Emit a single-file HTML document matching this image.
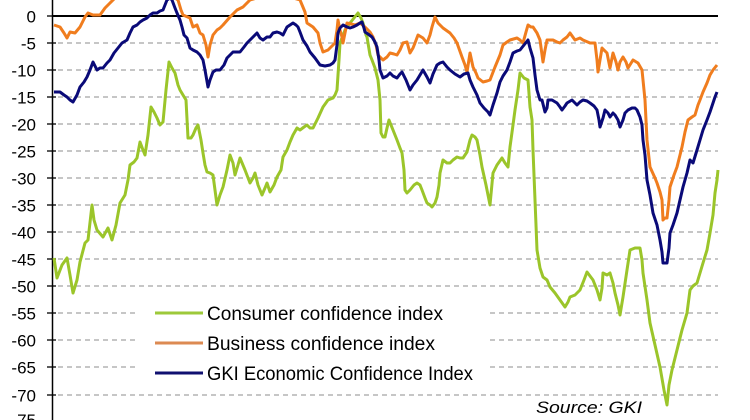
<!DOCTYPE html>
<html>
<head>
<meta charset="utf-8">
<style>
  html,body{margin:0;padding:0;background:#fff;}
  svg{display:block;}
  text{font-family:"Liberation Sans",Arial,sans-serif;fill:#000;}
</style>
</head>
<body>
<svg width="750" height="420" viewBox="0 0 750 420" xmlns="http://www.w3.org/2000/svg">
  <rect x="0" y="0" width="750" height="420" fill="#fff"/>
  <!-- gridlines -->
  <g stroke="#b4b4b4" stroke-width="1.5" stroke-dasharray="5,4" fill="none">
    <line x1="58" y1="43" x2="718" y2="43"/>
    <line x1="58" y1="70" x2="718" y2="70"/>
    <line x1="58" y1="97" x2="718" y2="97"/>
    <line x1="58" y1="124" x2="718" y2="124"/>
    <line x1="58" y1="151" x2="718" y2="151"/>
    <line x1="58" y1="178" x2="718" y2="178"/>
    <line x1="58" y1="205" x2="718" y2="205"/>
    <line x1="58" y1="232" x2="718" y2="232"/>
    <line x1="58" y1="259" x2="718" y2="259"/>
    <line x1="58" y1="286" x2="718" y2="286"/>
    <line x1="58" y1="313" x2="718" y2="313"/>
    <line x1="58" y1="340" x2="718" y2="340"/>
    <line x1="58" y1="367" x2="718" y2="367"/>
    <line x1="58" y1="395" x2="718" y2="395"/>
  </g>
  <!-- zero line -->
  <line x1="53" y1="16" x2="718" y2="16" stroke="#000" stroke-width="2"/>
  <!-- legend background -->
  <rect x="138" y="296" width="352" height="88" fill="#fff"/>
  <!-- y axis -->
  <line x1="52.5" y1="0" x2="52.5" y2="420" stroke="#000" stroke-width="1.5"/>
  <g stroke="#000" stroke-width="1.3">
    <line x1="47" y1="16" x2="56" y2="16"/>
    <line x1="47" y1="43" x2="56" y2="43"/>
    <line x1="47" y1="70" x2="56" y2="70"/>
    <line x1="47" y1="97" x2="56" y2="97"/>
    <line x1="47" y1="124" x2="56" y2="124"/>
    <line x1="47" y1="151" x2="56" y2="151"/>
    <line x1="47" y1="178" x2="56" y2="178"/>
    <line x1="47" y1="205" x2="56" y2="205"/>
    <line x1="47" y1="232" x2="56" y2="232"/>
    <line x1="47" y1="259" x2="56" y2="259"/>
    <line x1="47" y1="286" x2="56" y2="286"/>
    <line x1="47" y1="313" x2="56" y2="313"/>
    <line x1="47" y1="340" x2="56" y2="340"/>
    <line x1="47" y1="367" x2="56" y2="367"/>
    <line x1="47" y1="395" x2="56" y2="395"/>
    <line x1="47" y1="422" x2="56" y2="422"/>
  </g>
  <g font-size="17" text-anchor="end">
    <text x="36" y="22.5">0</text>
    <text x="36" y="49.5">-5</text>
    <text x="36" y="76.5">-10</text>
    <text x="36" y="103.5">-15</text>
    <text x="36" y="130.5">-20</text>
    <text x="36" y="157.5">-25</text>
    <text x="36" y="184.5">-30</text>
    <text x="36" y="211.5">-35</text>
    <text x="36" y="238.5">-40</text>
    <text x="36" y="265.5">-45</text>
    <text x="36" y="292.5">-50</text>
    <text x="36" y="319.5">-55</text>
    <text x="36" y="346.5">-60</text>
    <text x="36" y="373.5">-65</text>
    <text x="36" y="401.5">-70</text>
    <text x="36" y="426">-75</text>
  </g>
  <!-- consumer confidence (green) -->
  <polyline fill="none" stroke="#9bc52a" stroke-width="3" stroke-linejoin="round" points="54,258 57,278 62,265 67,258 70,275 73,293 77,280 80,262 85,243 88,240 92,205 94,220 97,230 103,237 108,228 112,240 116,225 120,203 125,195 128,180 130,165 134,162 137,158 140,142 143,150 145,155 148,135 151,107 154,112 157,118 160,125 163,122 166,90 169,62 172,68 175,73 178,85 180,90 183,95 186,100 188,138 191,138 193,135 196,128 198,125 201,140 203,153 205,165 207,172 210,173 213,175 215,190 217,205 220,195 223,187 227,170 230,155 233,163 235,175 238,165 240,158 245,170 250,183 253,178 255,173 258,185 262,195 265,188 267,183 270,192 274,185 277,177 281,170 283,157 287,150 290,142 293,135 297,128 300,130 304,127 307,125 310,128 313,128 318,118 323,107 328,100 333,98 335,95 337,90 339,60 340,43 345,30 350,23 354,18 358,13 361,18 363,23 366,35 367,37 370,55 372,60 375,68 378,80 380,100 381,133 383,137 385,137 387,128 389,120 393,130 397,140 400,148 402,153 404,170 405,190 407,193 410,190 414,185 417,183 420,185 422,190 425,198 427,203 430,205 432,207 435,203 437,197 439,185 440,173 443,160 447,163 450,163 453,160 457,157 460,158 463,158 467,152 470,140 472,135 475,137 477,140 480,155 482,167 486,185 490,205 493,173 497,165 502,158 505,163 508,167 510,147 513,125 515,110 518,90 520,73 524,78 528,80 530,107 532,120 533,150 535,200 537,250 540,268 543,277 547,280 550,287 555,293 560,300 565,307 568,302 570,297 575,295 580,290 584,280 587,272 590,276 593,280 597,290 600,300 602,288 603,273 607,275 610,273 613,283 615,293 618,305 620,315 623,297 627,270 630,250 635,248 640,248 642,260 643,273 647,300 650,323 655,345 660,367 664,390 667,405 669,385 672,370 677,350 682,330 687,313 690,290 693,286 697,283 700,273 703,263 707,250 710,233 713,215 715,193 717,180 718,170"/>
  <!-- business confidence (orange) -->
  <polyline fill="none" stroke="#f07d1e" stroke-width="3" stroke-linejoin="round" points="54,25 60,27 64,33 67,38 70,32 75,33 80,27 85,17 88,13 93,15 100,15 105,8 110,3 115,-2 125,-3 135,-4 150,-5 165,-4 175,-2 178,0 181,10 183,15 190,18 193,27 197,25 200,33 203,35 206,45 208,57 210,45 213,35 217,30 220,28 223,25 230,17 237,10 243,7 250,0 260,-3 275,-4 290,-3 300,0 305,12 307,23 313,27 318,33 320,43 323,52 328,50 332,46 335,43 337,30 338,20 340,30 342,37 343,43 345,33 347,23 351,24 355,25 360,23 365,27 370,32 373,37 376,45 378,55 383,60 387,57 390,53 394,54 397,55 400,50 403,43 407,42 410,53 413,48 415,43 418,35 423,38 427,43 430,35 432,27 435,17 438,23 443,28 450,33 454,38 457,43 462,57 465,65 467,72 470,53 473,67 476,73 478,78 483,82 487,81 490,80 495,67 500,55 503,45 507,42 510,40 517,38 520,40 523,43 526,32 528,25 531,27 533,27 537,33 540,40 543,62 545,50 547,40 553,40 557,42 560,43 563,40 567,37 570,33 575,40 580,38 583,40 590,43 595,43 597,60 598,72 600,60 602,48 607,53 610,68 613,53 616,62 618,70 620,62 623,57 626,62 628,68 633,60 638,63 642,70 645,100 647,140 650,167 655,178 657,183 660,192 662,200 663,220 665,218 667,218 669,200 670,187 674,175 677,167 680,155 682,147 685,132 688,120 692,117 695,115 698,105 700,100 703,92 707,83 710,75 713,70 717,65"/>
  <!-- GKI economic (navy) -->
  <polyline fill="none" stroke="#0a0a78" stroke-width="3" stroke-linejoin="round" points="54,92 60,92 64,95 67,97 70,100 73,102 77,95 80,87 84,82 87,77 90,70 93,62 97,70 100,68 103,68 107,63 110,60 114,53 118,48 122,43 127,40 130,33 133,27 137,25 140,22 143,20 147,18 150,15 153,13 157,13 160,11 163,10 165,5 167,0 170,-2 172,0 175,8 177,13 180,20 182,27 184,35 187,38 190,48 193,50 197,52 200,55 203,60 205,70 208,87 210,80 213,72 216,70 220,70 224,65 227,58 230,55 233,52 237,52 240,52 244,47 247,43 250,40 253,37 257,33 260,38 263,40 267,37 270,37 273,33 277,32 280,33 283,35 287,27 290,25 293,23 296,25 298,27 300,32 303,40 307,46 310,52 315,58 320,65 325,66 330,65 333,63 335,60 337,45 338,33 340,28 343,25 347,27 350,28 353,27 357,25 360,23 362,22 364,28 365,32 368,34 372,37 375,42 377,47 379,60 380,70 383,78 387,76 390,73 393,76 397,78 400,74 402,72 406,80 410,90 413,85 417,80 420,75 423,70 427,77 430,83 433,74 437,65 440,63 443,62 447,67 450,70 455,74 460,77 464,74 468,73 470,80 473,87 477,95 480,103 484,108 488,112 490,115 493,105 497,93 500,82 503,76 507,70 510,62 513,53 517,51 520,50 524,45 528,40 530,48 533,58 535,75 537,90 540,100 542,100 545,112 547,108 548,100 552,100 557,103 560,107 562,110 565,106 567,103 572,100 577,105 580,102 583,100 587,101 590,103 594,106 597,110 599,120 600,127 603,118 605,110 608,113 610,117 613,113 615,115 618,120 620,127 623,120 625,113 628,110 632,108 635,108 637,110 640,117 642,125 643,140 645,155 647,180 650,195 653,213 657,225 660,240 662,252 663,263 667,263 669,248 670,233 673,225 677,213 680,200 683,187 687,173 690,160 693,163 697,150 700,140 703,130 707,120 710,112 713,103 715,97 717,92"/>
  <!-- legend -->
  <line x1="155" y1="313" x2="203" y2="313" stroke="#9dc93a" stroke-width="3"/>
  <line x1="155" y1="343" x2="203" y2="343" stroke="#dc8a52" stroke-width="3"/>
  <line x1="155" y1="373" x2="203" y2="373" stroke="#101070" stroke-width="3"/>
  <g font-size="19">
    <text x="207" y="320" textLength="236" lengthAdjust="spacingAndGlyphs">Consumer confidence index</text>
    <text x="207" y="350" textLength="228" lengthAdjust="spacingAndGlyphs">Business confidence index</text>
    <text x="207" y="380" textLength="266" lengthAdjust="spacingAndGlyphs">GKI Economic Confidence Index</text>
  </g>
  <text x="536" y="413" font-size="17" font-style="italic" textLength="106" lengthAdjust="spacingAndGlyphs">Source: GKI</text>
</svg>
</body>
</html>
